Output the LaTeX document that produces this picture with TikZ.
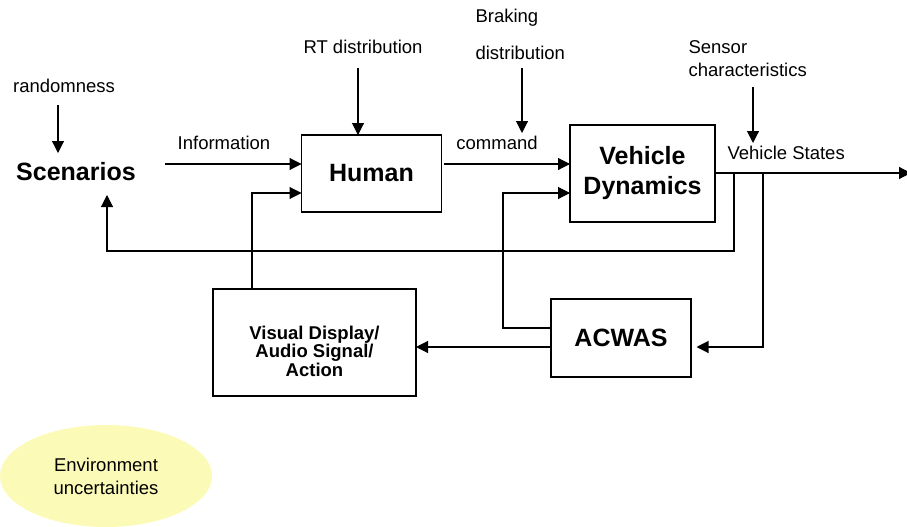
\documentclass[tikz,border=0pt]{standalone}
\usepackage{fontspec}
\setmainfont{Liberation Sans}
\usetikzlibrary{arrows.meta,shapes.geometric}

\begin{document}
\begin{tikzpicture}[x=1pt,y=-1pt,
  line width=1.1pt,
  arr/.style={-{Triangle[length=12pt,width=12pt]}},
  lbl/.style={inner sep=0pt,font=\fontsize{18.5}{22}\selectfont},
  blk/.style={draw,outer sep=0pt,inner sep=0pt,align=center,
              font=\fontsize{25}{30}\selectfont\bfseries}]
\useasboundingbox (0,0) rectangle (907,527);

% uncertainty bubble
\node[ellipse,fill={rgb,255:red,252;green,250;blue,183},inner sep=0pt,
      minimum width=212,minimum height=102,align=center,
      font=\fontsize{18.5}{23}\selectfont] (env) at (106,476)
      {Environment\\uncertainties};

% main blocks
\node[blk,minimum width=140,minimum height=77] (hum) at (371.5,173.5) {Human};
\node[blk,minimum width=145,minimum height=97] (vd) at (642.5,173.5) {Vehicle\\Dynamics};
\node[blk,minimum width=140,minimum height=78] (acw) at (621,338) {ACWAS};
\node[blk,minimum width=203,minimum height=107] (vis) at (314.5,342.5) {};
\node[inner sep=0pt,align=center,font=\fontsize{18.5}{18.5}\selectfont\bfseries]
      (vistxt) at (314.5,351) {Visual Display/\\Audio Signal/\\Action};

% scenario source
\node[inner sep=0pt,font=\fontsize{25}{30}\selectfont\bfseries] (scen) at (76,171.5) {Scenarios};

% labels
\node[lbl] (rnd) at (64,86) {randomness};
\node[lbl] (info) at (224,143) {Information};
\node[lbl] (rt) at (363,47) {RT distribution};
\node[lbl,anchor=west] (brk) at (475,18) {Braking};
\node[lbl,anchor=west] (brkd) at (475,53) {distribution};
\node[lbl] (cmd) at (497,143) {command};
\node[lbl,anchor=west] (sen) at (688,47) {Sensor};
\node[lbl,anchor=west] (senc) at (688,70) {characteristics};
\node[lbl,anchor=west] (vst) at (727,153) {Vehicle States};

% routing points
\coordinate (rndTail) at (58,105);
\coordinate (rndTip) at (58,153);
\coordinate (rtTail) at (358,68);
\coordinate (brkTail) at (522,68);
\coordinate (brkTip) at (522,133);
\coordinate (senTail) at (753,87);
\coordinate (senTip) at (753,143);
\coordinate (infoTail) at (165,164);
\coordinate (visUp) at (252,193);
\coordinate (acUp) at (503,328);
\coordinate (outEnd) at (911,173);
\coordinate (fbX) at (734,251);
\coordinate (scTip) at (107,195);
\coordinate (acX) at (763,347);

% disturbance inputs
\draw[arr] (rndTail) -- (rndTip);
\draw[arr] (rtTail) -- (rtTail |- hum.north);
\draw[arr] (brkTail) -- (brkTip);
\draw[arr] (senTail) -- (senTip);

% forward path
\draw[arr] (infoTail) -- (infoTail -| hum.west);
\draw[arr] ([xshift=2pt]hum.east |- infoTail) -- (vd.west |- infoTail);
\draw[arr] (vd.east |- outEnd) -- (outEnd);

% feedback paths
\draw[arr] (vis.north -| visUp) -- (visUp) -- (visUp -| hum.west);
\draw[arr] (acw.west |- acUp) -- (acUp) -- (acUp |- visUp) -- (vd.west |- visUp);
\draw[arr] (fbX |- outEnd) -- (fbX) -- (scTip |- fbX) -- (scTip);
\draw[arr] (acX |- outEnd) -- (acX) -- ([xshift=5.5pt]acw.east |- acX);
\draw[arr] (acw.west |- acX) -- (vis.east |- acX);
\end{tikzpicture}
\end{document}
